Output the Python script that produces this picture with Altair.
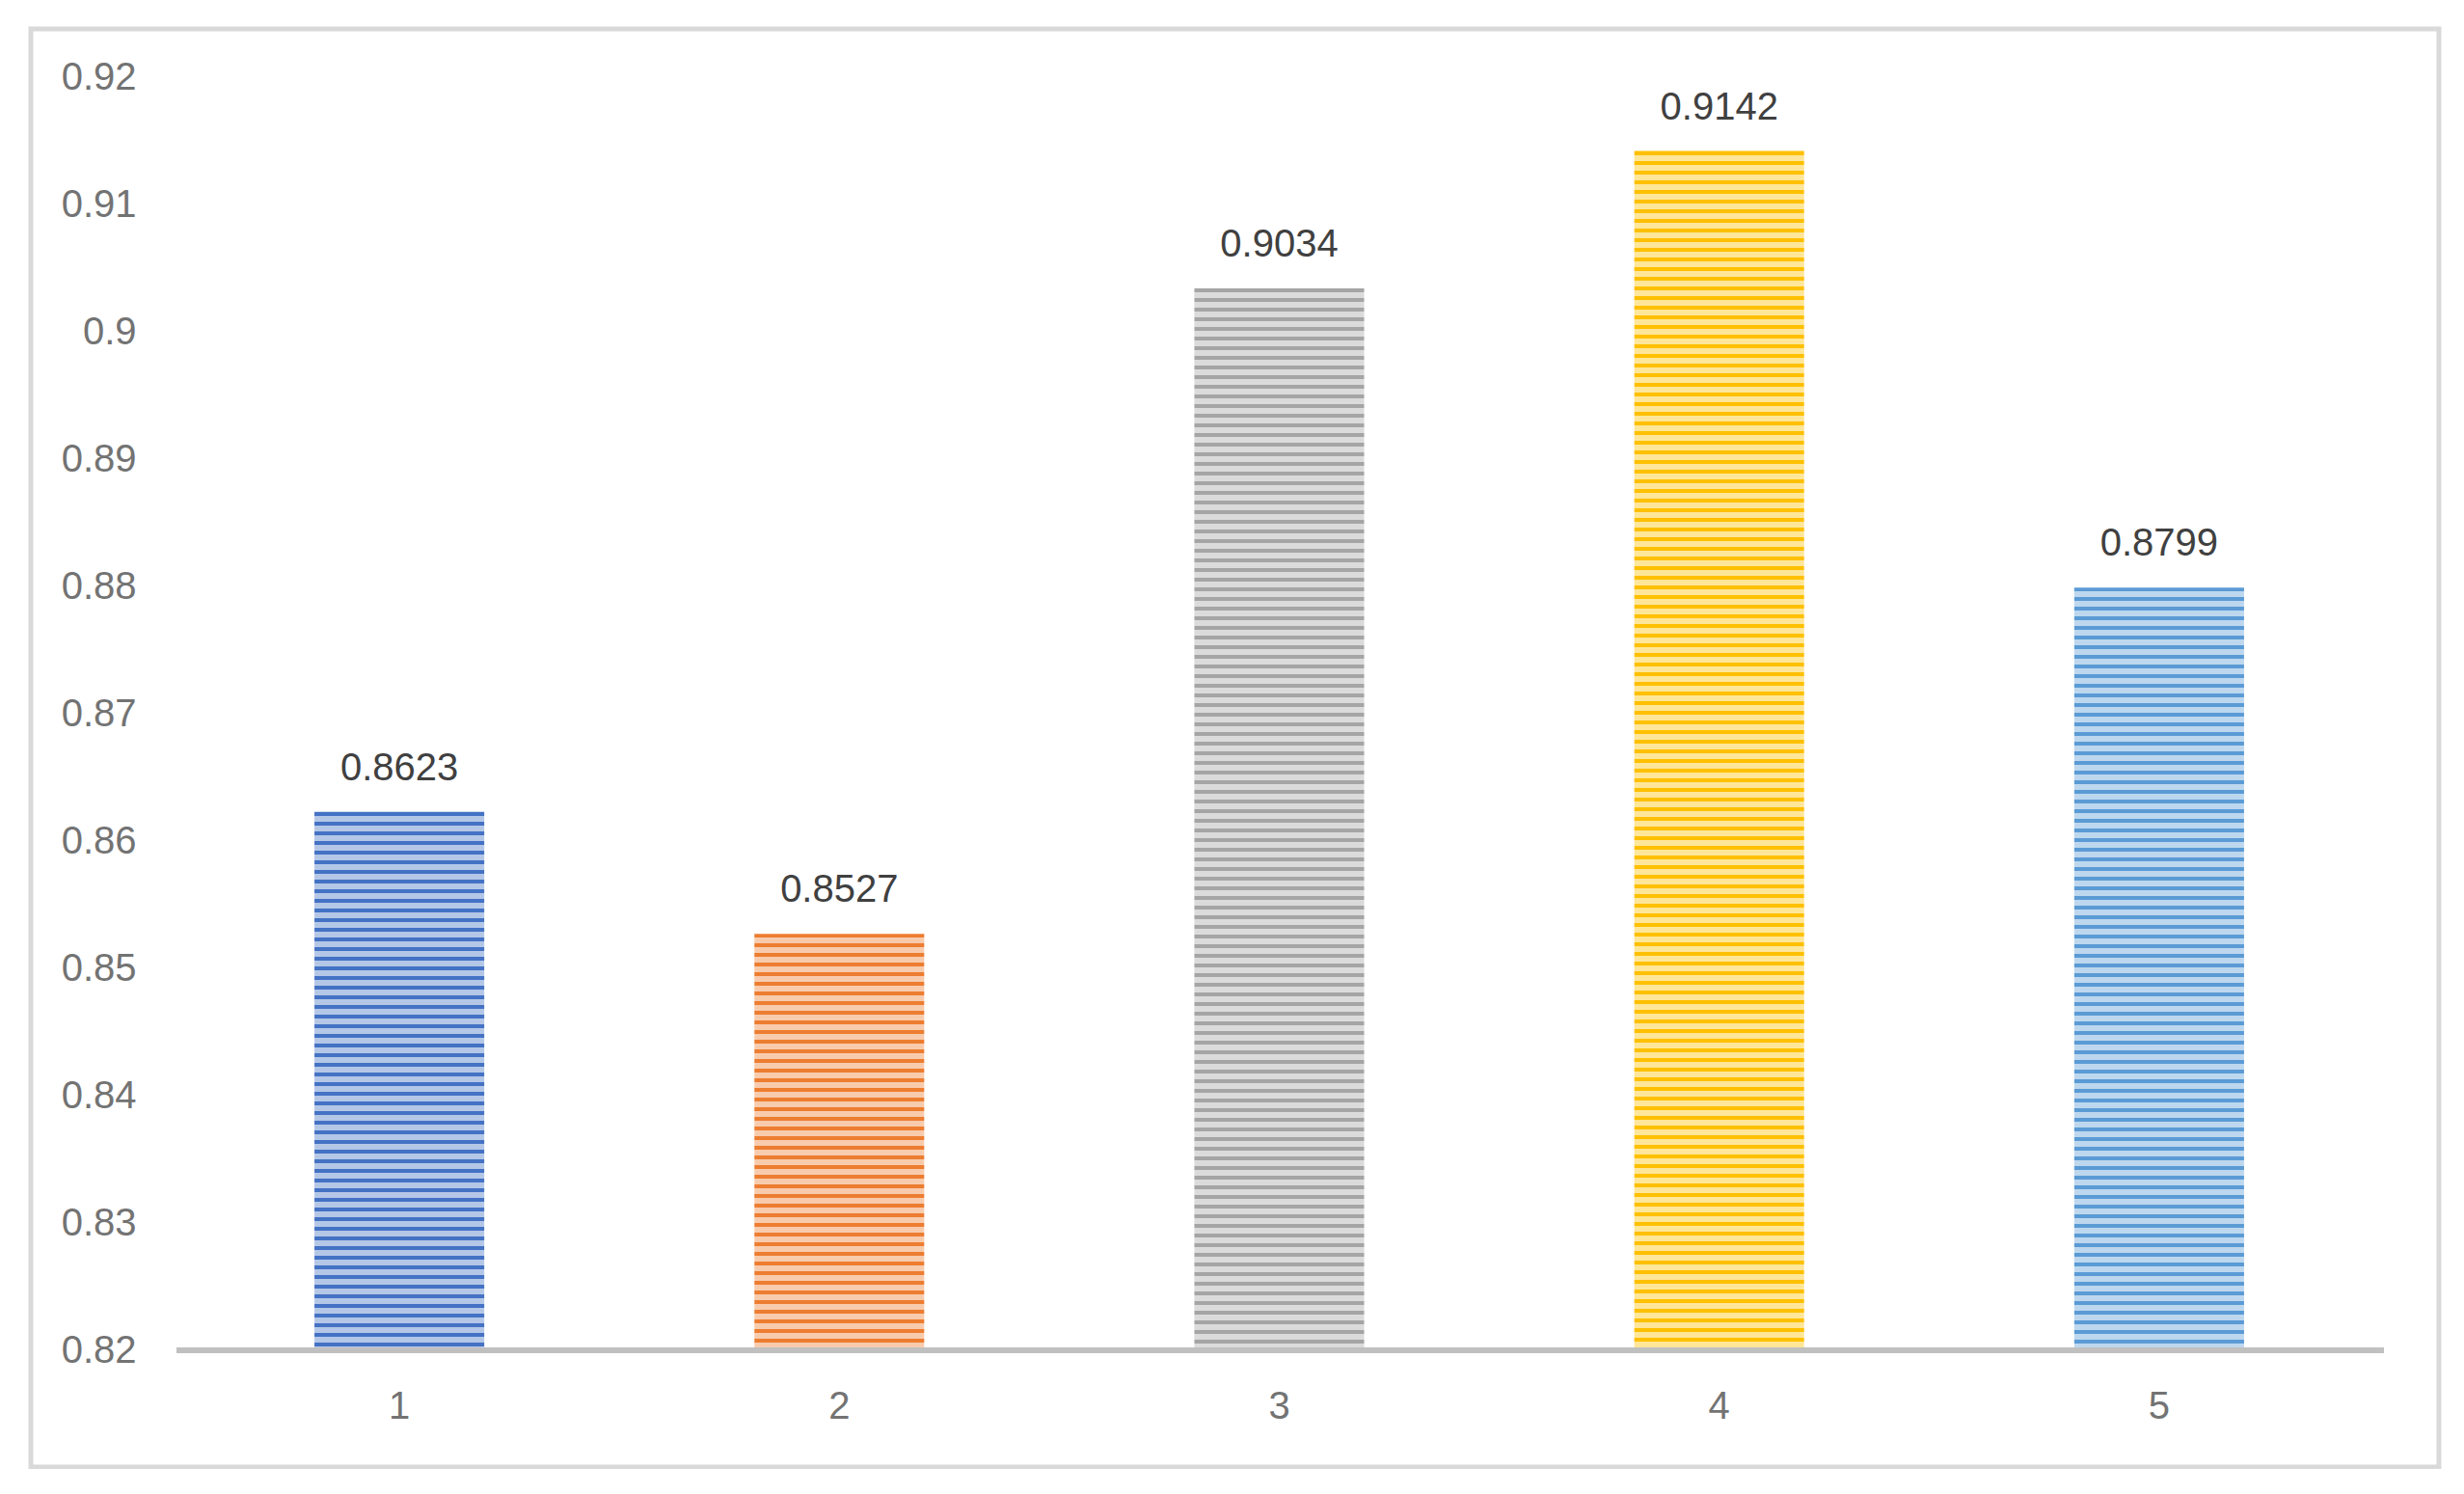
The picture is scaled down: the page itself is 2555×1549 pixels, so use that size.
import altair as alt
import pandas as pd

categories = ["1", "2", "3", "4", "5"]
values = [0.8623, 0.8527, 0.9034, 0.9142, 0.8799]
y_ticks = [0.82, 0.83, 0.84, 0.85, 0.86, 0.87, 0.88, 0.89, 0.90, 0.91, 0.92]
dark_colors = ["#4472C4", "#ED7D31", "#A5A5A5", "#FFC000", "#5B9BD5"]
light_colors = ["#B4C7E7", "#F8CBAD", "#DBDBDB", "#FFE699", "#BDD7EE"]

Y_MIN, Y_MAX = 0.82, 0.92
W, H = 2281, 1320
PITCH, DARK = 10.0, 4.0

df = pd.DataFrame({"cat": categories, "value": values})

x_enc = alt.X("cat:N", sort=categories,
              scale=alt.Scale(domain=categories, paddingInner=0.614, paddingOuter=0.307),
              axis=alt.Axis(title=None, domain=False, ticks=False, labelAngle=0,
                            labelFontSize=40, labelColor="#737373", labelFont="Liberation Sans",
                            labelPadding=38))
y_scale = alt.Scale(domain=[Y_MIN, Y_MAX], zero=False, nice=False)
y_enc = alt.Y("value:Q", scale=y_scale,
              axis=alt.Axis(title=None, domain=False, ticks=False, grid=False,
                            values=y_ticks, format=".2~f", labelFontSize=40,
                            labelColor="#737373", labelFont="Liberation Sans",
                            labelPadding=45))


def stripes(value, dark, light):
    h = (value - Y_MIN) / (Y_MAX - Y_MIN) * H
    stops = []
    pos = 0.0
    while pos < h:
        a = pos / h
        b = min(pos + DARK, h) / h
        c = min(pos + PITCH, h) / h
        stops += [alt.GradientStop(offset=a, color=dark),
                  alt.GradientStop(offset=b, color=dark),
                  alt.GradientStop(offset=b, color=light),
                  alt.GradientStop(offset=c, color=light)]
        pos += PITCH
    return alt.LinearGradient(gradient="linear", stops=stops, x1=0, x2=0, y1=0, y2=1)


border = alt.Chart(df).mark_rect(fillOpacity=0, stroke="#D9D9D9", strokeWidth=5).encode(
    x=alt.value(-154), x2=alt.value(2343), y=alt.value(-50), y2=alt.value(1441)
).transform_filter(alt.datum.cat == "1")

layers = [border]
for c, v, d, l in zip(categories, values, dark_colors, light_colors):
    layers.append(
        alt.Chart(df).transform_filter(alt.datum.cat == c)
        .mark_bar(color=stripes(v, d, l))
        .encode(x=x_enc, y=y_enc, y2=alt.datum(Y_MIN))
    )

baseline = alt.Chart(df).transform_filter(alt.datum.cat == "1").mark_rule(
    color="#C0C0C0", strokeWidth=6
).encode(x=alt.value(-3), x2=alt.value(W + 5), y=alt.datum(Y_MIN))
layers.append(baseline)

labels = alt.Chart(df).mark_text(
    fontSize=40, font="Liberation Sans", color="#404040", baseline="alphabetic", dy=-33
).encode(x=x_enc, y=y_enc, text=alt.Text("value:Q", format=".4f"))
layers.append(labels)

chart = alt.layer(*layers).properties(
    width=W, height=H,
    autosize=alt.AutoSizeParams(type="none"),
    padding={"left": 178, "top": 72, "right": 70, "bottom": 123},
).configure_view(stroke=None)

chart.save("out.html", embed_options={"renderer": "svg", "actions": False})
